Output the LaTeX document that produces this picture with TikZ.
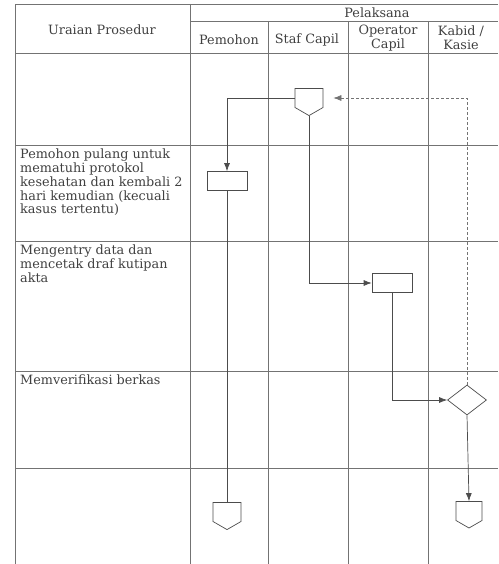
\documentclass[tikz,border=0pt]{standalone}
\usepackage{fontspec}
\setmainfont{DejaVu Serif}
\usetikzlibrary{shapes.geometric,shapes.symbols,arrows.meta}
\tikzset{
  grid/.style={draw=black!55,line width=0.7pt},
  flow/.style={draw=black!70,line width=0.7pt},
  txt/.style={text=black!75,font=\fontsize{12.8}{13.7}\selectfont,inner sep=0pt},
  box/.style={flow,minimum width=40pt,minimum height=19pt,inner sep=0pt},
  offpage/.style={flow,signal,signal to=south,signal pointer angle=120,minimum width=28pt,minimum height=19pt,inner sep=0pt},
  decide/.style={flow,diamond,minimum width=39pt,minimum height=30pt,inner sep=0pt},
}
\begin{document}
\begin{tikzpicture}[x=1pt,y=-1pt,>={Latex[length=8pt,width=6pt]}]
        \useasboundingbox (0,0) rectangle (498,564);
        % table
        \draw [grid] (498,4) -- (15,4) -- (15,564);
        \draw [grid] (190,4) -- (190,564);
        \draw [grid] (190,21) -- (498,21);
        \draw [grid] (15,53) -- (498,53);
        \foreach \x in {268,348,428} \draw [grid] (\x,21) -- (\x,564);
        \foreach \y in {145,241,371,468} \draw [grid] (15,\y) -- (498,\y);
        % headers
        \node [txt] (U) at (102,30) {Uraian Prosedur};
        \node [txt] (L) at (377,13) {Pelaksana};
        \node [txt] (H1) at (229,40) {Pemohon};
        \node [txt] (H2) at (307,40) {Staf Capil};
        \node [txt,align=center] (H3) at (388,38) {Operator\\Capil};
        \node [txt,align=center] (H4) at (461,38) {Kabid /\\Kasie};
        % steps
        \node [txt,anchor=north west,align=left] (T1) at (20,149) {Pemohon pulang untuk\\mematuhi protokol\\kesehatan dan kembali 2\\hari kemudian (kecuali\\kasus tertentu)};
        \node [txt,anchor=north west,align=left] (T2) at (20,245) {Mengentry data dan\\mencetak draf kutipan\\akta};
        \node [txt,anchor=north west,align=left] (T3) at (20,375) {Memverifikasi berkas};
        % flow
        \node [offpage] (S1) at (309,98) {};
        \node [box] (P1) at (227,181) {};
        \node [box] (O1) at (392,283) {};
        \node [decide] (K1) at (467,400) {};
        \node [offpage] (P2) at (227,512) {};
        \node [offpage,minimum width=26pt] (K2) at (469,511) {};
        \draw [flow,->] (S1.west) -| (P1.north);
        \draw [flow] (P1.south) -- (P2.north);
        \draw [flow,->] (S1.south) |- (O1.west);
        \draw [flow,->] (O1.south) |- (K1.west);
        \draw [flow,->] (K1.south) -- (K2.north);
        \draw [flow,->,draw=black!55,dash pattern=on 3pt off 2pt,shorten >=10pt] (K1.north) |- (S1.east);
    \end{tikzpicture}
\end{document}
